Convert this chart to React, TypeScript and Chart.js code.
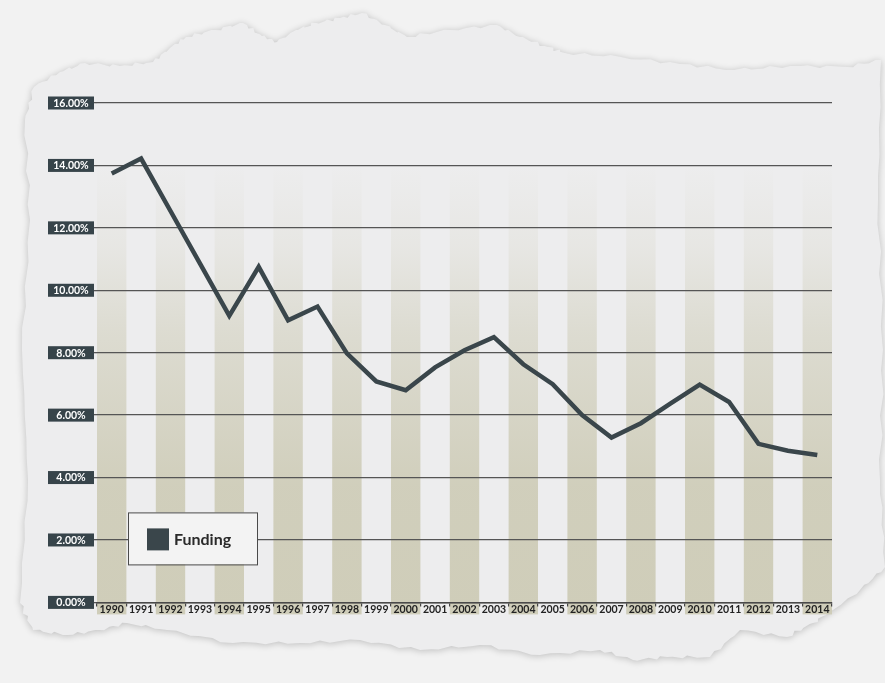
import React, { useEffect, useRef } from 'react';
import { Chart, registerables } from 'chart.js';

Chart.register(...registerables);

// ---- data ----
const years = [
  '1990', '1991', '1992', '1993', '1994', '1995', '1996', '1997', '1998', '1999',
  '2000', '2001', '2002', '2003', '2004', '2005', '2006', '2007', '2008', '2009',
  '2010', '2011', '2012', '2013', '2014',
];
const funding = [
  13.74, 14.22, 12.54, 10.86, 9.18, 10.75, 9.04, 9.48, 7.98, 7.08,
  6.8, 7.53, 8.08, 8.5, 7.63, 6.99, 6.0, 5.28, 5.74, 6.37,
  6.98, 6.42, 5.08, 4.86, 4.72,
];
const yTickValues = [0, 2, 4, 6, 8, 10, 12, 14, 16];
const seriesLabel = 'Funding';

// ---- styles ----
const LINE_COLOR = '#3a464b';
const BOX_COLOR = '#37444a';
const FONT = 'Lato, "Open Sans", sans-serif';

// torn paper outline (decoration only)
const paperEdge: [number, number][] = [
  [34, 87], [60, 72], [85, 63], [120, 66], [153, 62], [170, 48], [186, 37], [215, 30], [243, 23],
  [262, 36], [277, 42], [296, 30], [316, 23], [340, 18], [362, 13], [385, 25], [407, 37], [450, 30],
  [497, 25], [520, 37], [545, 46], [565, 53], [621, 57], [680, 64], [734, 70], [790, 66], [847, 67],
  [881, 60], [878, 200], [883, 350], [880, 480], [885, 567], [860, 590], [833, 610], [813, 623],
  [787, 637], [740, 630], [710, 657], [667, 657], [633, 660], [600, 650], [540, 655], [480, 645],
  [420, 650], [360, 640], [300, 643], [233, 643], [167, 630], [127, 623], [100, 630], [67, 635],
  [33, 630], [20, 603], [28, 480], [22, 350], [30, 220], [25, 120],
];

const paperPlugin = {
  id: 'paperAndBands',
  beforeDraw(chart: any) {
    const { ctx, width, height, chartArea } = chart;
    ctx.save();
    ctx.fillStyle = '#f2f2f2';
    ctx.fillRect(0, 0, width, height);
    ctx.beginPath();
    paperEdge.forEach(([px, py], i) => {
      const [nx, ny] = paperEdge[(i + 1) % paperEdge.length];
      if (i === 0) ctx.moveTo(px, py);
      const n = 6;
      for (let k = 1; k <= n; k++) {
        const t = k / n;
        const jx = k === n ? 0 : Math.sin(i * 7 + k * 3.1) * 1.5;
        const jy = k === n ? 0 : Math.cos(i * 5 + k * 2.3) * 1.5;
        ctx.lineTo(px + (nx - px) * t + jx, py + (ny - py) * t + jy);
      }
    });
    ctx.closePath();
    ctx.shadowColor = 'rgba(0,0,0,0.22)';
    ctx.shadowBlur = 7;
    ctx.shadowOffsetY = 1;
    ctx.fillStyle = '#ededee';
    ctx.fill();
    ctx.restore();

    // alternating column bands
    const x = chart.scales.x;
    const step = x.getPixelForValue(1) - x.getPixelForValue(0);
    const bottom = chartArea.bottom + 12;
    const grad = ctx.createLinearGradient(0, bottom, 0, chartArea.top);
    grad.addColorStop(0, 'rgba(207,205,185,1)');
    grad.addColorStop(0.25, 'rgba(207,205,185,0.95)');
    grad.addColorStop(0.55, 'rgba(207,205,185,0.55)');
    grad.addColorStop(0.72, 'rgba(207,205,185,0.2)');
    grad.addColorStop(0.88, 'rgba(207,205,185,0)');
    grad.addColorStop(1, 'rgba(207,205,185,0)');
    ctx.save();
    ctx.fillStyle = grad;
    years.forEach((_, i) => {
      if (i % 2 === 0) {
        const cx = x.getPixelForValue(i);
        ctx.fillRect(cx - step / 2, chartArea.top, step, bottom - chartArea.top);
      }
    });
    ctx.restore();
  },
};

const overlayPlugin = {
  id: 'overlay',
  afterDraw(chart: any) {
    const { ctx, chartArea } = chart;
    const y = chart.scales.y;
    ctx.save();
    // y tick label boxes
    ctx.font = `bold 10.5px ${FONT}`;
    ctx.textAlign = 'center';
    ctx.textBaseline = 'middle';
    yTickValues.forEach((v) => {
      const py = y.getPixelForValue(v);
      ctx.fillStyle = BOX_COLOR;
      ctx.fillRect(chartArea.left - 49, py - 6.5, 46, 13);
      ctx.fillStyle = '#ffffff';
      ctx.fillText(v.toFixed(2) + '%', chartArea.left - 26, py + 0.5);
    });
    // legend box
    const lx = chartArea.left + 31;
    const ly = chartArea.bottom - 90;
    ctx.fillStyle = '#f3f3f3';
    ctx.fillRect(lx, ly, 129, 52);
    ctx.strokeStyle = '#4a4a4a';
    ctx.lineWidth = 1;
    ctx.strokeRect(lx + 0.5, ly + 0.5, 129, 52);
    ctx.fillStyle = LINE_COLOR;
    ctx.fillRect(lx + 19, ly + 16, 22, 22);
    ctx.fillStyle = '#2a2a2a';
    ctx.font = `bold 16px ${FONT}`;
    ctx.textAlign = 'left';
    ctx.fillText(chart.data.datasets[0].label, lx + 46, ly + 27);
    ctx.restore();
  },
};

export default function App() {
  const canvasRef = useRef<HTMLCanvasElement | null>(null);

  useEffect(() => {
    if (!canvasRef.current) return;
    const chart = new Chart(canvasRef.current, {
      type: 'line',
      data: {
        labels: years,
        datasets: [
          {
            label: seriesLabel,
            data: funding,
            borderColor: LINE_COLOR,
            backgroundColor: LINE_COLOR,
            borderWidth: 4.5,
            pointRadius: 0,
            tension: 0,
            borderJoinStyle: 'miter',
            borderCapStyle: 'butt',
            fill: false,
          },
        ],
      },
      options: {
        animation: false,
        responsive: true,
        maintainAspectRatio: false,
        layout: { padding: { left: 94, right: 53, top: 103, bottom: 70 } },
        plugins: {
          legend: { display: false },
          tooltip: { enabled: false },
        },
        scales: {
          x: {
            type: 'category',
            offset: true,
            grid: {
              offset: true,
              drawOnChartArea: false,
              drawTicks: true,
              tickLength: 4,
              color: '#444',
              lineWidth: 1.2,
            },
            border: { display: true, color: '#4a4a4a', width: 1.5 },
            ticks: {
              color: '#222',
              font: { family: FONT, weight: 'bold', size: 10.5 },
              padding: -3,
              maxRotation: 0,
              autoSkip: false,
            },
          },
          y: {
            min: 0,
            max: 16,
            ticks: { stepSize: 2, display: false },
            grid: { color: '#555', lineWidth: 1.3, drawTicks: true, tickLength: 3 },
            border: { display: false },
          },
        },
      },
      plugins: [paperPlugin, overlayPlugin],
    } as any);
    return () => chart.destroy();
  }, []);

  return (
    <div style={{ position: 'fixed', left: 0, top: 0, width: 885, height: 683 }}>
      <canvas ref={canvasRef} />
    </div>
  );
}
